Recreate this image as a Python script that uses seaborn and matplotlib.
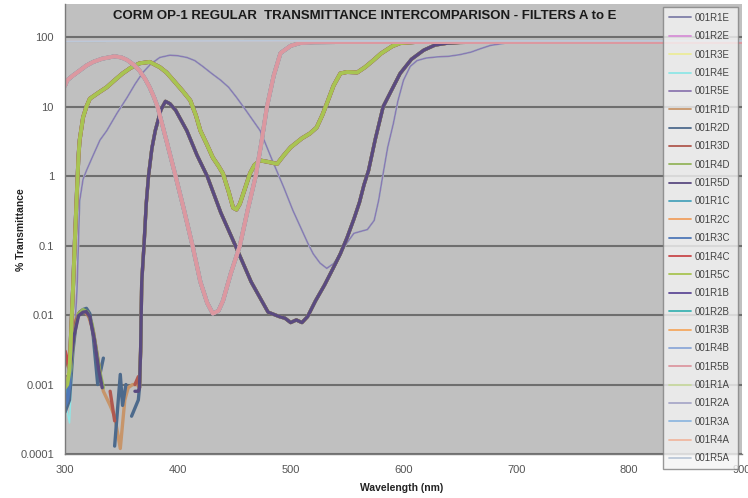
import numpy as np
import pandas as pd
import matplotlib
matplotlib.use("Agg")
import matplotlib.pyplot as plt
from matplotlib.lines import Line2D
from matplotlib.ticker import FixedLocator, FixedFormatter, NullLocator
import seaborn as sns

nan = np.nan

# ---------------------------------------------------------------- series
series_names = [
    "001R1E", "001R2E", "001R3E", "001R4E", "001R5E",
    "001R1D", "001R2D", "001R3D", "001R4D", "001R5D",
    "001R1C", "001R2C", "001R3C", "001R4C", "001R5C",
    "001R1B", "001R2B", "001R3B", "001R4B", "001R5B",
    "001R1A", "001R2A", "001R3A", "001R4A", "001R5A",
]
series_colors = [
    "#7f7fa8", "#d68fd6", "#ecec9a", "#8fe6e6", "#8c78b0",
    "#c7956a", "#4d6a8c", "#b0584f", "#94b45c", "#5a4a80",
    "#4aa3bb", "#f0a060", "#4f78b8", "#c8484a", "#a8c452",
    "#5e4a96", "#3db3b3", "#f5a860", "#8ca8d8", "#dc98a0",
    "#c8d8a0", "#a8a8c8", "#90b8e0", "#f0b8a0", "#bcc8d8",
]

# ---------------------------------------------------------------- filter E
e_wl = [307, 309, 310.6, 312, 313, 316, 319, 325, 331, 337, 346, 355, 362,
        369, 376, 384, 393, 400, 408, 415, 422, 430, 438, 445, 452, 460, 473,
        483, 494, 502, 509, 515, 520, 526, 532, 538, 544, 550, 556, 562, 568,
        574, 578, 582, 586, 591, 595, 600, 606, 612, 620, 630, 640, 650, 660,
        668, 677, 690, 705, 740, 800, 900]
e_val = [0.003, 0.008, 0.022, 0.12, 0.44, 0.9, 1.2, 2.0, 3.3, 4.5, 8.0, 13.5,
         21, 31, 41, 51, 55, 54, 51, 46, 38, 30, 24, 19, 13.6, 9, 4.5, 1.8,
         0.68, 0.32, 0.18, 0.11, 0.076, 0.056, 0.047, 0.055, 0.076, 0.11,
         0.15, 0.16, 0.17, 0.23, 0.45, 1.1, 2.6, 5.7, 12, 24, 38, 46, 50, 52,
         53, 56, 61, 68, 76, 82, 84, 85, 85, 85]
e_start_wl = [300, 302, 304, 306]
e_start = {
    "001R1E": [0.0006, 0.0007, 0.0009, 0.0015],
    "001R2E": [0.0009, 0.0010, 0.0012, 0.0018],
    "001R3E": [0.0015, 0.0013, 0.0011, 0.0016],
    "001R4E": [0.0005, 0.0004, 0.00028, 0.0012],
    "001R5E": [0.0011, 0.0012, 0.0013, 0.0020],
}

# ---------------------------------------------------------------- filter D
d_wl = [366, 367, 368, 370, 372, 374, 377, 380, 385, 389, 393, 398, 408, 417,
        426, 438, 451, 465, 480, 490, 495, 500, 505, 510, 515, 522, 530, 537,
        544, 550, 556, 561, 565, 569, 575, 582, 590, 597, 607, 618, 628, 639,
        650, 670, 700, 800, 900]
d_val = [0.0009, 0.003, 0.03, 0.1, 0.4, 1, 2.5, 4.5, 9, 11.9, 11, 8.9, 4.5, 2,
         1, 0.3, 0.1, 0.03, 0.011, 0.0095, 0.009, 0.0078, 0.0085, 0.0078,
         0.0095, 0.016, 0.027, 0.045, 0.076, 0.13, 0.24, 0.42, 0.75, 1.2, 3.4,
         10, 18, 30, 48, 65, 77, 82, 84, 85, 85, 85, 85]
d_start = {
    "001R1D": ([300, 303, 306, 309, 312, 315, 318, 321, 324, 327, 330, 334,
                340, 344, 349, 353, 356, 360, 364],
               [0.001, 0.0012, 0.0035, 0.008, 0.0105, 0.0115, 0.011, 0.0095,
                0.0065, 0.0035, 0.0016, 0.0008, 0.0005, 0.00035, 0.00012,
                0.0006, 0.0009, 0.001, 0.001]),
    "001R2D": ([300, 304, 307, 310, 313, 316, 319, 322, 325, 329, 334, 339,
                344, 349, 351, 354, 357, 359, 365],
               [0.0004, 0.0006, 0.003, 0.008, 0.011, 0.012, 0.0125, 0.0105,
                0.005, 0.001, 0.0024, nan, 0.00013, 0.0014, 0.0005, 0.001,
                nan, 0.00035, 0.0006]),
    "001R3D": ([300, 304, 307, 310, 313, 316, 319, 322, 325, 328, 331, 336,
                340, 344, 353, 362, 365],
               [0.0025, 0.0016, 0.004, 0.0085, 0.011, 0.0115, 0.011, 0.009,
                0.006, 0.003, 0.0015, nan, 0.0008, 0.0003, nan, 0.001,
                0.0013]),
    "001R4D": ([300, 304, 308, 312, 316, 320, 324, 328, 331, 334, 345],
               [0.0008, 0.0011, 0.005, 0.0105, 0.012, 0.011, 0.0075, 0.003,
                0.0015, 0.0009, nan]),
    "001R5D": ([300, 304, 308, 312, 316, 319, 322, 326, 330, 333, 345, 362,
                365],
               [0.0012, 0.0014, 0.005, 0.0098, 0.011, 0.0112, 0.0095, 0.0045,
                0.0016, 0.0009, nan, 0.0008, 0.0008]),
}

# ---------------------------------------------------------------- filter C
c_wl = [305, 307, 309, 310.6, 312, 313, 316, 319, 322, 330, 337, 344, 351,
        358, 366, 375, 384, 390, 396, 404, 411, 416, 420, 426, 431, 436, 440,
        445, 449, 452, 455, 460, 464, 468, 473, 480, 488, 494, 500, 510, 517,
        523, 528, 532, 538, 544, 550, 559, 566, 573, 580, 590, 597, 610, 620,
        660, 900]
c_val = [0.004, 0.022, 0.15, 0.62, 2, 3.3, 7, 10, 13, 16, 19, 24, 30, 36, 42,
         44, 37, 31, 24, 17, 12.3, 7.5, 4.5, 2.8, 1.85, 1.4, 1.09, 0.6, 0.35,
         0.33, 0.4, 0.7, 1.1, 1.45, 1.68, 1.6, 1.5, 2, 2.6, 3.5, 4.1, 5, 7.5,
         11, 20, 30, 31.5, 31, 37, 46, 58, 74, 82, 85, 85, 85, 85]
c_start_wl = [300, 302, 304]
c_start = {
    "001R1C": [0.0006, 0.0008, 0.0015],
    "001R2C": [0.0012, 0.0011, 0.0015],
    "001R3C": [0.0005, 0.0006, 0.0010],
    "001R4C": [0.0030, 0.0022, 0.0020],
    "001R5C": [0.0009, 0.0010, 0.0016],
}

# ---------------------------------------------------------------- filter B
b_wl = [300, 302, 307, 313, 319, 325, 333, 344, 350, 355, 361, 366, 371, 375,
        379, 382, 390, 398, 405, 413, 420, 426, 431, 436, 440, 447, 455, 462,
        469, 474, 479, 485, 491, 500, 508, 520, 540, 900]
b_val = [20, 24, 28, 33, 39, 44, 49, 53, 51, 47, 40, 33, 25, 19, 13.5, 10,
         3.2, 1, 0.35, 0.1, 0.03, 0.015, 0.0105, 0.0115, 0.016, 0.04, 0.1,
         0.33, 1, 3, 10, 28, 59, 75, 82, 84.5, 85, 85]

# ---------------------------------------------------------------- filter A
a_wl = [300, 350, 400, 500, 600, 700, 800, 900]
a_val = [87, 88, 88, 88.5, 88.5, 88.5, 88.5, 88.5]

# ---------------------------------------------------------------- long table
rows = []


def add_series(name, wl, val):
    seg = 0
    for w, v in zip(wl, val):
        if np.isnan(v):
            seg += 1
            continue
        rows.append((name, seg, w, v))


for name in series_names:
    flt = name[-1]
    if flt == "E":
        add_series(name, e_start_wl + e_wl, e_start[name] + e_val)
    elif flt == "D":
        wl0, v0 = d_start[name]
        add_series(name, wl0 + d_wl, v0 + d_val)
    elif flt == "C":
        add_series(name, c_start_wl + c_wl, c_start[name] + c_val)
    elif flt == "B":
        add_series(name, b_wl, b_val)
    else:
        add_series(name, a_wl, a_val)

df = pd.DataFrame(rows, columns=["series", "segment", "wavelength",
                                 "transmittance"])
df["filter"] = df["series"].str[-1]
palette = dict(zip(series_names, series_colors))
line_widths = {"E": 1.1, "D": 2.4, "C": 2.8, "B": 2.8, "A": 1.3}

# ---------------------------------------------------------------- figure
sns.set_style("white", rc={"axes.facecolor": "#c0c0c0"})
plt.rcParams["font.family"] = ["Liberation Sans", "DejaVu Sans"]

fig = plt.figure(figsize=(7.48, 4.98), dpi=100)
fig.patch.set_facecolor("white")
ax = fig.add_axes([65 / 748, 1 - 454 / 498, 677 / 748, 450 / 498])
ax.set_facecolor("#c0c0c0")

for flt in ["E", "D", "C", "B", "A"]:
    sub = df[df["filter"] == flt]
    names = [n for n in series_names if n.endswith(flt)]
    sns.lineplot(data=sub, x="wavelength", y="transmittance", hue="series",
                 units="segment", estimator=None, sort=False,
                 hue_order=names, palette={n: palette[n] for n in names},
                 linewidth=line_widths[flt], legend=False, ax=ax)

ax.set_yscale("log")
ax.set_xlim(300, 900)
ax.set_ylim(1e-4, 300)

y_ticks = [0.0001, 0.001, 0.01, 0.1, 1, 10, 100]
y_labels = ["0.0001", "0.001", "0.01", "0.1", "1", "10", "100"]
x_ticks = [300, 400, 500, 600, 700, 800, 900]
ax.yaxis.set_major_locator(FixedLocator(y_ticks))
ax.yaxis.set_major_formatter(FixedFormatter(y_labels))
ax.yaxis.set_minor_locator(NullLocator())
ax.set_xticks(x_ticks)
ax.set_xticklabels([str(t) for t in x_ticks])

ax.set_axisbelow(True)
ax.yaxis.grid(True, color="#6e6e6e", linewidth=1.5)
ax.xaxis.grid(False)
for side in ["top", "right"]:
    ax.spines[side].set_visible(False)
for side in ["left", "bottom"]:
    ax.spines[side].set_color("#7a7a7a")
    ax.spines[side].set_linewidth(1.0)
ax.tick_params(axis="both", direction="out", length=4, width=1,
               color="#7a7a7a", labelsize=8, labelcolor="#555555", pad=4)
ax.set_xlabel("")
ax.set_ylabel("")

fig.text(402 / 748, 1 - 488 / 498, "Wavelength (nm)", ha="center",
         va="center", fontsize=7.5, fontweight="bold", color="#222222")
fig.text(21 / 748, 1 - 230 / 498, "% Transmittance", ha="center",
         va="center", rotation=90, fontsize=7.5, fontweight="bold",
         color="#222222")
fig.text(365 / 748, 1 - 16 / 498,
         "CORM OP-1 REGULAR  TRANSMITTANCE INTERCOMPARISON - FILTERS A to E",
         ha="center", va="center", fontsize=9.5, fontweight="bold",
         color="#1a1a1a")

handles = [Line2D([0], [0], color=c, linewidth=1.3) for c in series_colors]
leg = fig.legend(handles, series_names, loc="upper left",
                 bbox_to_anchor=(663 / 748, 1 - 469 / 498, 75 / 748,
                                 462 / 498),
                 mode="expand", fontsize=7, handlelength=2.3,
                 handletextpad=0.35, labelspacing=0.86, borderpad=0.6,
                 borderaxespad=0, frameon=True, fancybox=False)
leg.get_frame().set_facecolor("#f4f4f4")
leg.get_frame().set_edgecolor("#808080")
leg.get_frame().set_linewidth(1.0)
for t in leg.get_texts():
    t.set_color("#444444")

fig.savefig("out.png", dpi=100, facecolor="white")
